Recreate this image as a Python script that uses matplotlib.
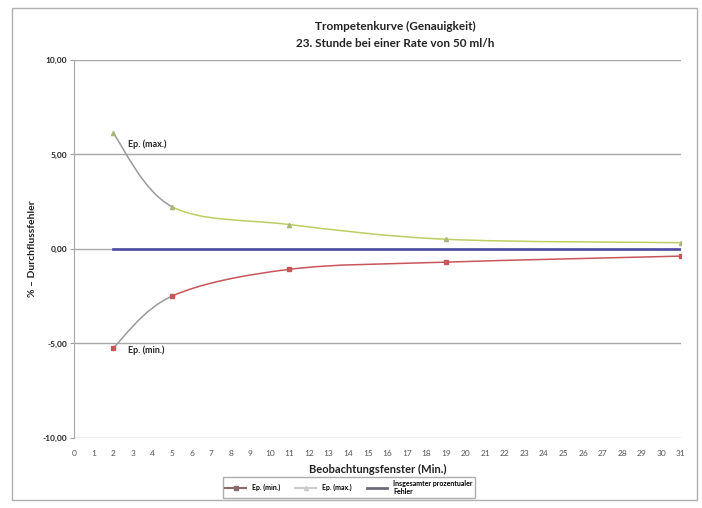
import matplotlib.pyplot as plt
from matplotlib.path import Path
from matplotlib.patches import PathPatch, Rectangle
from matplotlib.lines import Line2D

plt.rcParams["font.family"] = ["Lato", "DejaVu Sans"]

TITLE = "Trompetenkurve (Genauigkeit)\n23. Stunde bei einer Rate von 50 ml/h"
XLABEL = "Beobachtungsfenster (Min.)"
YLABEL = "% \u2013 Durchflussfehler"

window = [2, 5, 11, 19, 31]
ep_min = [-5.24, -2.50, -1.08, -0.70, -0.38]
ep_max = [6.13, 2.24, 1.29, 0.51, 0.33]
total_err = [-0.02, -0.02, -0.02, -0.02, -0.02]

yticks = [-10, -5, 0, 5, 10]
xticks = list(range(0, 32))

MIN_COLOR = "#c8555a"
MAX_COLOR = "#bccf62"
TOT_COLOR = "#4b4aa6"
STEEP_COLOR = "#9a9a9a"


def smooth_segments(xs, ys, t=1 / 6):
    # Excel-style smoothed line: Catmull-Rom turned into cubic Bezier pieces
    segs = []
    n = len(xs)
    for i in range(n - 1):
        x0, y0 = xs[max(i - 1, 0)], ys[max(i - 1, 0)]
        x1, y1 = xs[i], ys[i]
        x2, y2 = xs[i + 1], ys[i + 1]
        x3, y3 = xs[min(i + 2, n - 1)], ys[min(i + 2, n - 1)]
        c1 = (x1 + (x2 - x0) * t, y1 + (y2 - y0) * t)
        c2 = (x2 - (x3 - x1) * t, y2 - (y3 - y1) * t)
        segs.append([(x1, y1), c1, c2, (x2, y2)])
    return segs


def draw_smooth(ax, xs, ys, color, lw=1.1):
    for k, seg in enumerate(smooth_segments(xs, ys)):
        col = STEEP_COLOR if k == 0 else color
        path = Path(seg, [Path.MOVETO, Path.CURVE4, Path.CURVE4, Path.CURVE4])
        ax.add_patch(PathPatch(path, facecolor="none", edgecolor=col, lw=lw, zorder=3))


fig = plt.figure(figsize=(7.02, 5.08), dpi=100)
ax = fig.add_axes([0.1054, 0.138, 0.8647, 0.744])

fig.patches.append(Rectangle((12 / 702, 8 / 508), 685 / 702, 492 / 508,
                             transform=fig.transFigure, fill=False,
                             edgecolor="#b0b0b0", lw=1.0))

draw_smooth(ax, window, ep_min, MIN_COLOR)
draw_smooth(ax, window, ep_max, MAX_COLOR)
ax.plot(window, ep_min, "s", color=MIN_COLOR, markersize=3, zorder=4)
ax.plot(window, ep_max, "^", color="#a9b77a", markersize=3, zorder=4)
ax.plot(window, total_err, "-", color=TOT_COLOR, lw=1.9, zorder=3)

ax.text(2.75, ep_max[0] - 0.75, "Ep. (max.)", fontsize=6.5, fontweight="bold", color="#222222")
ax.text(2.75, ep_min[0] - 0.25, "Ep. (min.)", fontsize=6.5, fontweight="bold", color="#222222")

ax.set_xlim(0, 31)
ax.set_ylim(-10, 10)
ax.set_xticks(xticks)
ax.set_xticklabels([str(v) for v in xticks], fontsize=6, color="#555555")
ax.set_yticks(yticks)
ax.set_yticklabels([f"{v:.2f}".replace(".", ",") for v in yticks],
                   fontsize=6, fontweight="bold", color="#222222")
ax.tick_params(axis="x", length=0, pad=9)
ax.tick_params(axis="y", length=3, color="#a0a0a0", pad=2)
ax.yaxis.grid(True, color="#a8a8a8", lw=1.0)
ax.set_axisbelow(True)
for side in ["top", "right", "bottom"]:
    ax.spines[side].set_visible(False)
ax.spines["left"].set_color("#a8a8a8")

ax.set_xlabel(XLABEL, fontsize=8, fontweight="bold", color="#222222", labelpad=5)
ax.set_ylabel(YLABEL, fontsize=7.5, fontweight="bold", color="#222222", labelpad=4)
fig.text(0.563, 0.931, TITLE, ha="center", va="center", fontsize=8.5,
         fontweight="bold", color="#222222", linespacing=1.6)

handles = [
    Line2D([], [], color="#8a6a6a", marker="s", markersize=3, lw=1.5),
    Line2D([], [], color="#cccccc", marker="^", markersize=3, lw=1.5),
    Line2D([], [], color="#6e6a7a", lw=2),
]
labels = ["Ep. (min.)", "Ep. (max.)", "Insgesamter prozentualer\nFehler"]
fig.legend(handles, labels, loc="center", bbox_to_anchor=(0.497, 0.041), ncol=3,
           prop={"weight": "bold", "size": 5}, frameon=True,
           edgecolor="#999999", fancybox=False, handlelength=3,
           columnspacing=2.2, borderpad=0.4)

fig.savefig("out.png", dpi=100)
